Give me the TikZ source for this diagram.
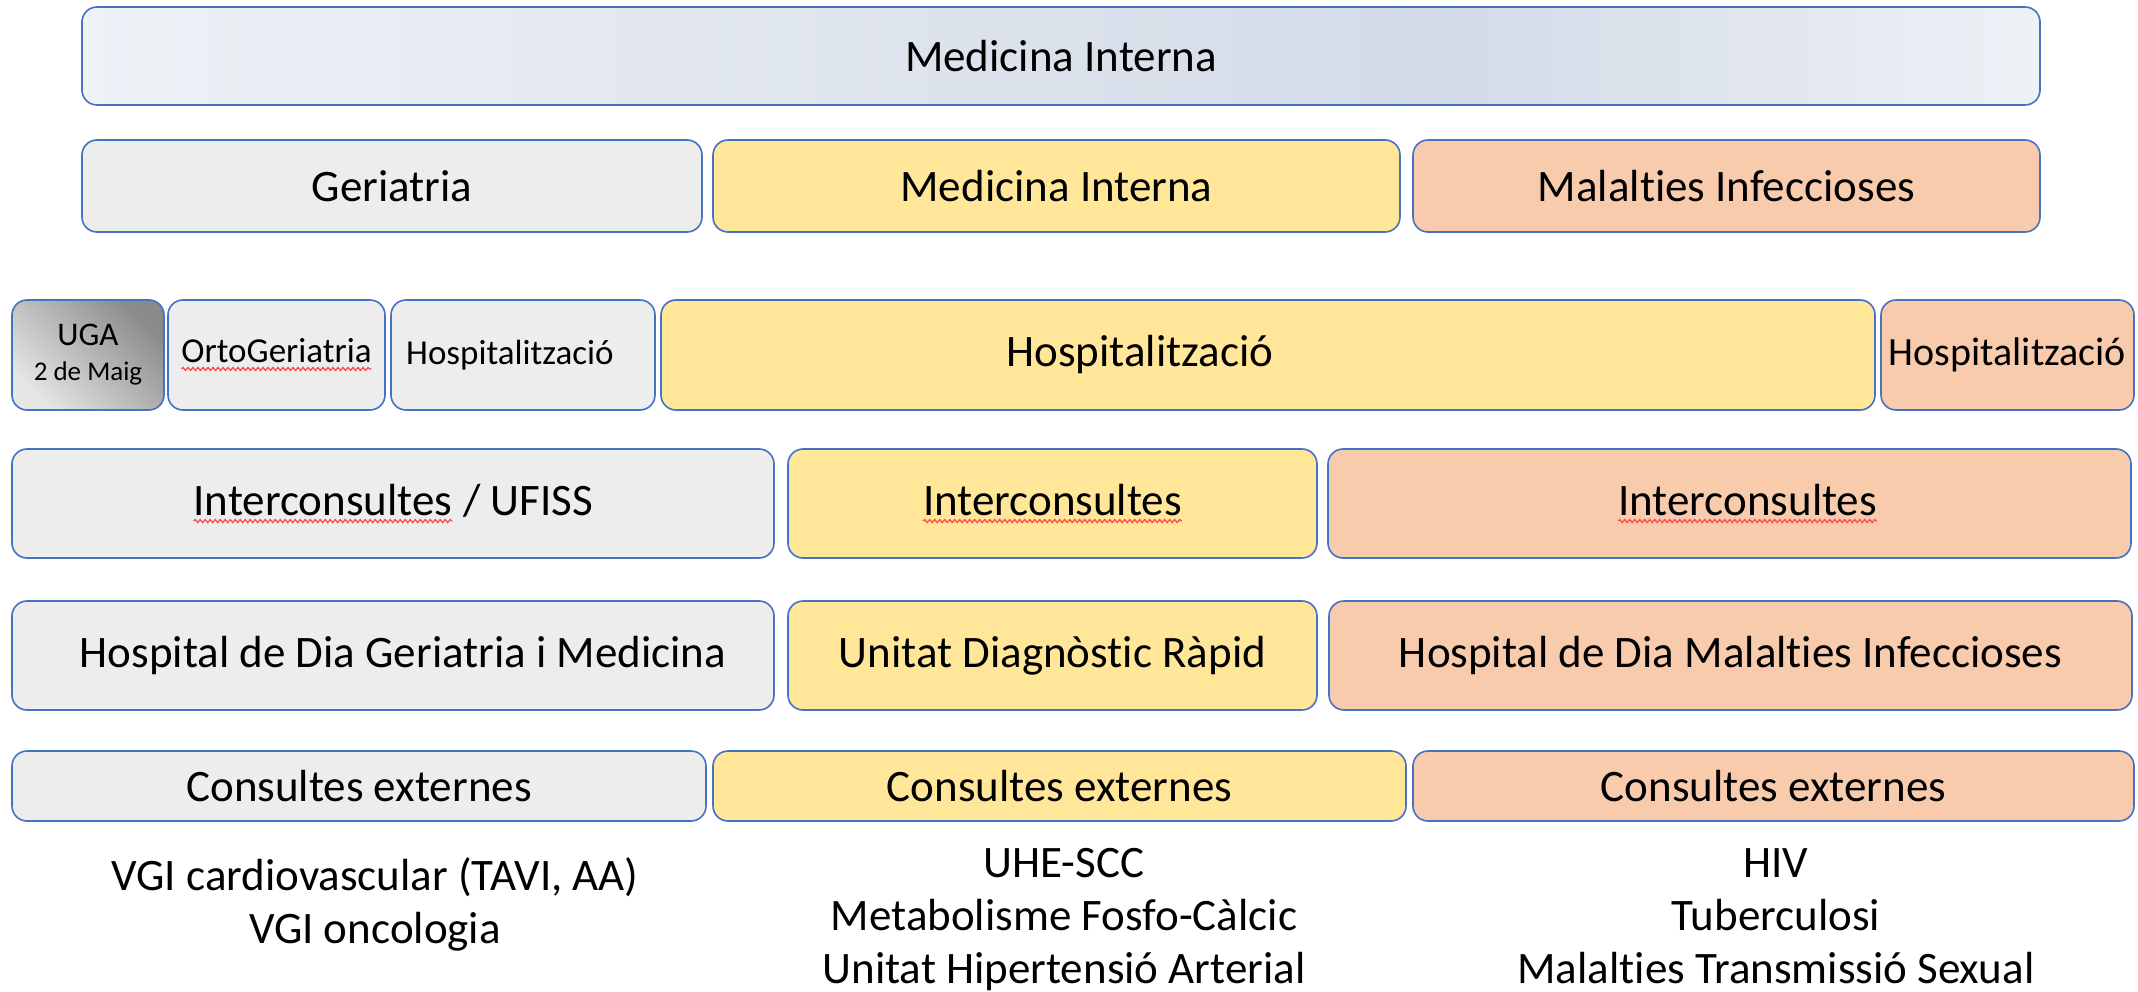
\documentclass[tikz,border=0pt]{standalone}
\usepackage{fontspec}
\setmainfont{Carlito}[RawFeature={-liga}]
\usetikzlibrary{decorations.pathmorphing}
\definecolor{bord}{HTML}{4472C4}
\definecolor{gy}{HTML}{EDEDED}
\definecolor{yl}{HTML}{FFE699}
\definecolor{sl}{HTML}{F8CBAD}
\definecolor{tlA}{HTML}{EEF1F6}
\definecolor{tlB}{HTML}{D3DBE7}
\definecolor{ugaD}{HTML}{8A8A8A}
\definecolor{ugaL}{HTML}{E6E6E6}
\definecolor{sqc}{HTML}{FF4B4B}
\pgfdeclarehorizontalshading{topgrad}{100bp}{color(0bp)=(tlA); color(25bp)=(tlA); color(60bp)=(tlB); color(75bp)=(tlA); color(100bp)=(tlA)}
\newcommand\sqw[1]{\tikz[baseline=(sqw.base)]{\node[inner sep=0pt,outer sep=0pt,draw=none,fill=none,minimum width=0pt,minimum height=0pt](sqw){#1};\draw[sqline]([yshift=-6pt]sqw.base west)--([yshift=-6pt]sqw.base east);}}
\begin{document}
\begin{tikzpicture}[x=1pt,y=-1pt,
  box/.style={draw=bord,line width=1.6pt,rounded corners=15pt,inner sep=0pt,font=\fontsize{45}{54}\selectfont},
  gbox/.style={box,fill=gy},
  ybox/.style={box,fill=yl},
  sbox/.style={box,fill=sl},
  sqline/.style={draw=sqc,line width=1.3pt,sharp corners,decorate,decoration={snake,amplitude=1.5pt,segment length=5pt}},
  note/.style={inner sep=0pt,anchor=base,font=\fontsize{45}{54}\selectfont}]
\useasboundingbox (0,0) rectangle (2138,992);
% row 1
\node[box,shading=topgrad,minimum width=1958pt,minimum height=98pt] (mi) at (1061,56) {Medicina Interna};
% row 2
\node[gbox,minimum width=620pt,minimum height=92pt] (geri) at (392,186) {Geriatria};
\node[ybox,minimum width=687pt,minimum height=92pt] (mi2) at (1056.5,186) {Medicina Interna};
\node[sbox,minimum width=627pt,minimum height=92pt] (mal) at (1726.5,186) {Malalties Infeccioses};
% row 3
\node[box,top color=ugaL,bottom color=ugaD,shading angle=135,minimum width=152pt,minimum height=110pt,align=center,font=\fontsize{27}{35}\selectfont] (uga) at (88,355) {{\fontsize{33}{35}\selectfont UGA}\\2 de Maig};
\node[gbox,minimum width=217pt,minimum height=110pt,font=\fontsize{35}{42}\selectfont] (orto) at (276.5,355) {\sqw{OrtoGeriatria}};
\node[gbox,minimum width=264pt,minimum height=110pt,font=\fontsize{35}{42}\selectfont] (hosg) at (523,355) {\hspace*{-26pt}Hospitalització};
\node[ybox,minimum width=1214pt,minimum height=110pt] (hosy) at (1268,355) {};
\node[inner sep=0pt,font=\fontsize{45}{54}\selectfont] (hosyt) at (1140,355) {Hospitalització};
\node[sbox,minimum width=253pt,minimum height=110pt,font=\fontsize{40}{48}\selectfont] (hoss) at (2007.5,355) {Hospitalització};
% row 4
\node[gbox,minimum width=762pt,minimum height=109pt] (int1) at (393,503.5) {\sqw{Interconsultes} / UFISS};
\node[ybox,minimum width=529pt,minimum height=109pt] (int2) at (1052.5,503.5) {\sqw{Interconsultes}};
\node[sbox,minimum width=803pt,minimum height=109pt] (int3) at (1729.5,503.5) {\hspace*{36pt}\sqw{Interconsultes}};
% row 5
\node[gbox,minimum width=762pt,minimum height=109pt] (hd1) at (393,655.5) {\hspace*{20pt}Hospital de Dia Geriatria i Medicina};
\node[ybox,minimum width=529pt,minimum height=109pt] (udr) at (1052.5,655.5) {Unitat Diagnòstic Ràpid};
\node[sbox,minimum width=803pt,minimum height=109pt] (hd3) at (1730.5,655.5) {Hospital de Dia Malalties Infeccioses};
% row 6
\node[gbox,minimum width=694pt,minimum height=70pt] (ce1) at (359,786) {Consultes externes};
\node[ybox,minimum width=693pt,minimum height=70pt] (ce2) at (1059.5,786) {Consultes externes};
\node[sbox,minimum width=721pt,minimum height=70pt] (ce3) at (1773.5,786) {Consultes externes};
% notes
\node[note] (l1) at (375,890) {VGI cardiovascular (TAVI, AA)};
\node[note] (l2) at (375,943) {VGI oncologia};
\node[note] (m1) at (1064,877) {UHE-SCC};
\node[note] (m2) at (1064,930) {Metabolisme Fosfo-Càlcic};
\node[note] (m3) at (1064,983) {Unitat Hipertensió Arterial};
\node[note] (r1) at (1776,877) {HIV};
\node[note] (r2) at (1776,930) {Tuberculosi};
\node[note] (r3) at (1776,983) {Malalties Transmissió Sexual};
\end{tikzpicture}
\end{document}
